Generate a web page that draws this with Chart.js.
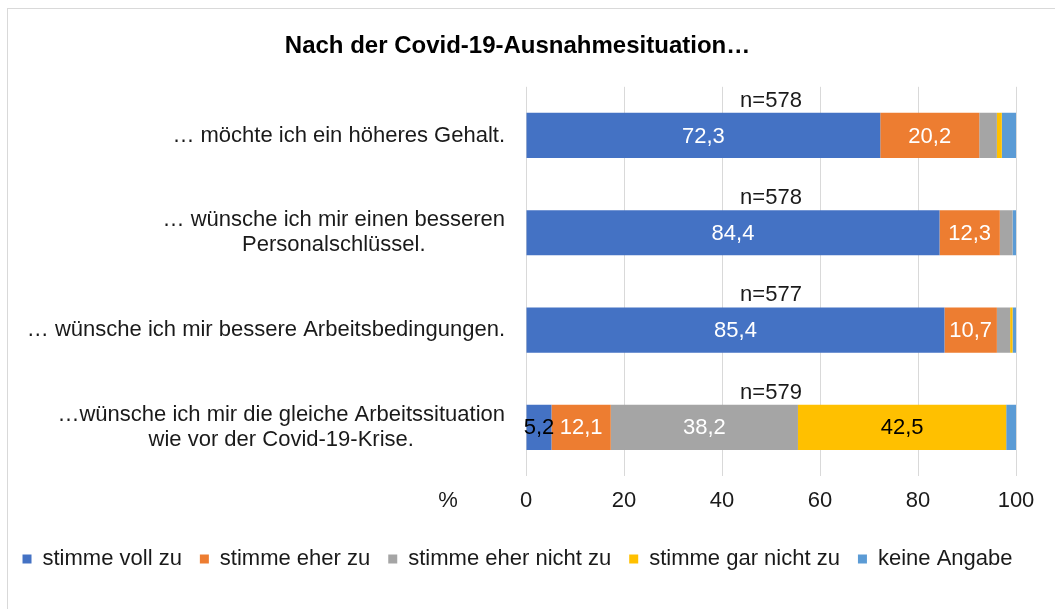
<!DOCTYPE html>
<html>
<head>
<meta charset="utf-8">
<script src="https://cdn.jsdelivr.net/npm/chart.js@4.4.1/dist/chart.umd.min.js"></script>
<style>
  html, body { margin:0; padding:0; background:#fff; overflow:hidden; }
  #wrap { position:relative; width:1055px; height:609px; }
  #frame { position:absolute; left:7px; top:8px; width:1100px; height:700px; border:1px solid #d9d9d9; box-sizing:border-box; }
  #chart { position:absolute; left:0; top:0; }
</style>
</head>
<body>
<div id="wrap">
  <div id="frame"></div>
  <canvas id="chart" width="1055" height="609"></canvas>
</div>
<script>
const categories = [
    ["… möchte ich ein höheres Gehalt."],
    ["… wünsche ich mir einen besseren", "Personalschlüssel."],
    ["… wünsche ich mir bessere Arbeitsbedingungen."],
    ["…wünsche ich mir die gleiche Arbeitssituation", "wie vor der Covid-19-Krise."]
];
const seriesNames = ["stimme voll zu", "stimme eher zu", "stimme eher nicht zu", "stimme gar nicht zu", "keine Angabe"];
const vollZu      = [72.3, 84.4, 85.4, 5.2];
const eherZu      = [20.2, 12.3, 10.7, 12.1];
const eherNicht   = [3.6, 2.6, 2.7, 38.2];
const garNicht    = [1.0, 0.0, 0.5, 42.5];
const keineAngabe = [2.9, 0.7, 0.7, 2.0];
const sampleSizes = [578, 578, 577, 579];
const xTicks = [0, 20, 40, 60, 80, 100];

const FONT = "'Liberation Sans', Arial, sans-serif";
const TEXT = "#1a1a1a";

const colors = ["#4472C4", "#ED7D31", "#A5A5A5", "#FFC000", "#5B9BD5"];
const labelColors = ["#ffffff", "#ffffff", "#ffffff", "#000000", "#ffffff"];

function fmt(v){
    return v.toFixed(1).replace(".", ",");
}

// value labels, n= labels, category labels and the "%" mark
const annotate = {
    id: "annotate",
    afterDatasetsDraw(chart){
        const ctx = chart.ctx;
        const xs = chart.scales.x;
        const ys = chart.scales.y;
        ctx.save();
        ctx.font = "22px " + FONT;
        ctx.textAlign = "center";
        ctx.textBaseline = "middle";

        chart.data.datasets.forEach((ds, di) => {
            const meta = chart.getDatasetMeta(di);
            meta.data.forEach((bar, i) => {
                const v = ds.data[i];
                if (v < 5) return;
                const cx = (bar.x + bar.base) / 2;
                let col = labelColors[di];
                if (Math.abs(bar.x - bar.base) < 40) col = "#000000";
                ctx.fillStyle = col;
                ctx.fillText(fmt(v), cx, bar.y + 1);
            });
        });

        // n= above each bar
        const meta0 = chart.getDatasetMeta(0);
        ctx.fillStyle = TEXT;
        sampleSizes.forEach((n, i) => {
            const bar = meta0.data[i];
            const top = bar.y - bar.height / 2;
            ctx.fillText("n=" + n, xs.getPixelForValue(50), top - 12);
        });

        // category labels, right edge near the axis, lines centred on each other
        const right = xs.left - 21;
        const lineH = 25;
        chart.data.labels.forEach((lines, i) => {
            const yc = ys.getPixelForValue(i);
            let w = 0;
            lines.forEach(l => { w = Math.max(w, ctx.measureText(l).width); });
            const cx = right - w / 2;
            lines.forEach((l, k) => {
                ctx.fillText(l, cx, yc + (k - (lines.length - 1) / 2) * lineH);
            });
        });

        // "%" left of the x tick labels
        ctx.fillText("%", 448, chart.chartArea.bottom + 25);
        ctx.restore();
    }
};

const ctx = document.getElementById("chart");

const chart = new Chart(ctx, {
    type: "bar",
    data: {
        labels: categories,
        datasets: [
            { label: seriesNames[0], data: vollZu,      backgroundColor: colors[0] },
            { label: seriesNames[1], data: eherZu,      backgroundColor: colors[1] },
            { label: seriesNames[2], data: eherNicht,   backgroundColor: colors[2] },
            { label: seriesNames[3], data: garNicht,    backgroundColor: colors[3] },
            { label: seriesNames[4], data: keineAngabe, backgroundColor: colors[4] }
        ]
    },
    options: {
        indexAxis: "y",
        responsive: false,
        animation: false,
        devicePixelRatio: 1,
        datasets: {
            bar: { borderWidth: 0, categoryPercentage: 1, barPercentage: 0.465 }
        },
        layout: { padding: { left: 0, right: 20, top: 0, bottom: 29 } },
        plugins: {
            title: {
                display: true,
                text: "Nach der Covid-19-Ausnahmesituation…",
                color: "#000",
                font: { family: FONT, size: 24, weight: "bold" },
                padding: { top: 32, bottom: 26 }
            },
            legend: {
                position: "bottom",
                labels: {
                    boxWidth: 9,
                    boxHeight: 9,
                    padding: 18,
                    color: TEXT,
                    font: { family: FONT, size: 22 }
                }
            },
            tooltip: { enabled: false }
        },
        scales: {
            x: {
                stacked: true,
                min: 0,
                max: 100,
                afterBuildTicks(scale){
                    scale.ticks = xTicks.map(v => ({ value: v }));
                },
                afterFit(scale){ scale.height = 54; },
                ticks: {
                    padding: 12,
                    color: TEXT,
                    font: { family: FONT, size: 22 }
                },
                grid: { color: "#d9d9d9", drawTicks: false },
                border: { display: false }
            },
            y: {
                stacked: true,
                afterFit(scale){ scale.width = 526; },
                ticks: { display: false },
                grid: { display: false },
                border: { display: false }
            },
            // empty strip on the right so the plot ends at 100 like the original
            yRight: {
                type: "category",
                position: "right",
                afterFit(scale){ scale.width = 19; },
                ticks: { display: false },
                grid: { display: false },
                border: { display: false }
            }
        }
    },
    plugins: [annotate]
});
</script>
</body>
</html>
